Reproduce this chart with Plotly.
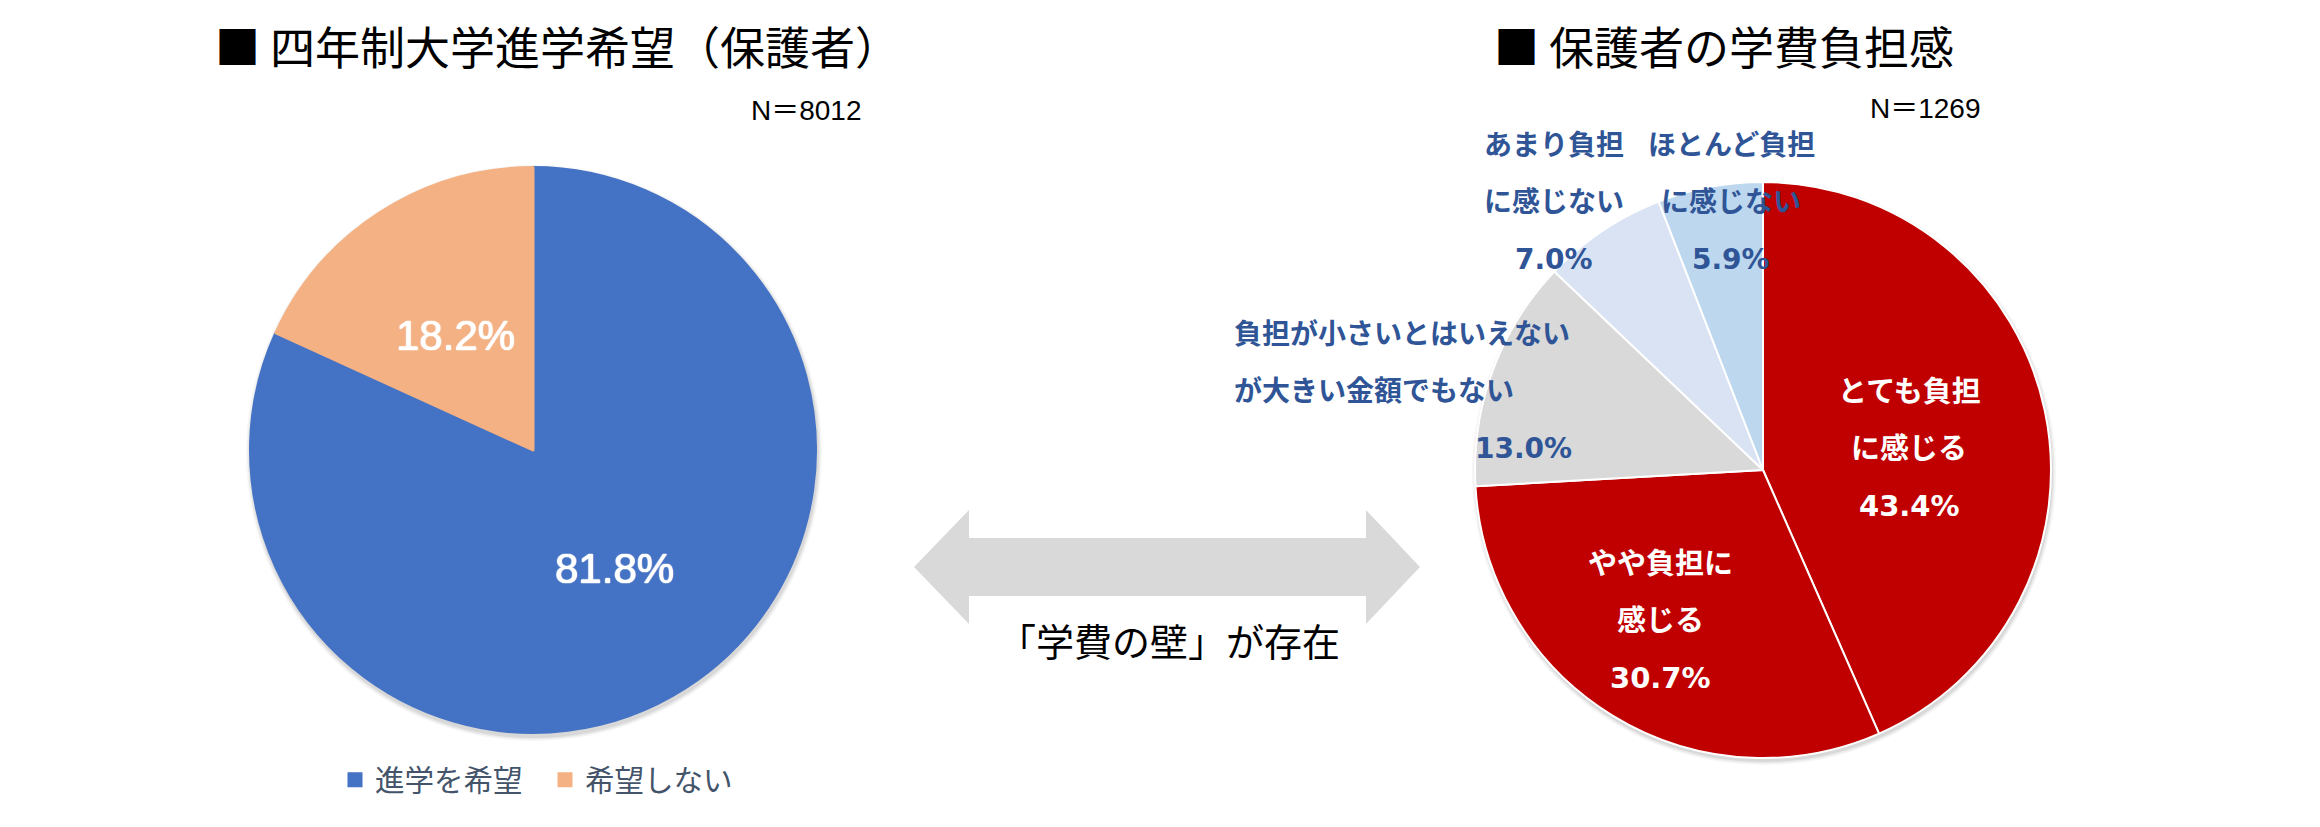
import plotly.graph_objects as go

W, H = 2320, 827

# ---------------- data ----------------
wish_labels = ["進学を希望", "希望しない"]
wish_values = [81.8, 18.2]
wish_colors = ["#4472C4", "#F4B183"]
wish_title = "■ 四年制大学進学希望（保護者）"
wish_n = "N＝8012"

burden_labels = [
    "とても負担<br>に感じる",
    "やや負担に<br>感じる",
    "負担が小さいとはいえない<br>が大きい金額でもない",
    "あまり負担<br>に感じない",
    "ほとんど負担<br>に感じない",
]
burden_values = [43.4, 30.7, 13.0, 7.0, 5.9]
burden_colors = ["#C00000", "#C00000", "#D9D9D9", "#DAE3F3", "#BDD7EE"]
burden_title = "■ 保護者の学費負担感"
burden_n = "N＝1269"

wall_caption = "「学費の壁」が存在"

# ---------------- helpers (screen pixel -> paper) ----------------
OFF = 8  # default body margin of the html page


def px(x):
    return (x - OFF) / W


def py(y):
    return 1 - (y - OFF) / H


def domain(cx, cy, r):
    return dict(x=[px(cx - r), px(cx + r)], y=[py(cy + r), py(cy - r)])


JP = "Noto Sans CJK JP"
JP_BOLD_LABEL = "DejaVu Sans, Noto Sans CJK JP"
LEFT_PCT_FONT = "Liberation Sans Narrow, Arial Narrow, Liberation Sans"

LEFT_C, LEFT_R = (533, 450), 284
RIGHT_C, RIGHT_R = (1763, 470), 288

fig = go.Figure()

# left pie (slice outline in the slice colour, so the legend squares get larger)
fig.add_trace(go.Pie(
    labels=wish_labels,
    values=wish_values,
    sort=False,
    direction="clockwise",
    rotation=0,
    marker=dict(colors=wish_colors, line=dict(width=3, color=wish_colors)),
    textinfo="none",
    hoverinfo="label+percent",
    domain=domain(LEFT_C[0], LEFT_C[1], LEFT_R - 1.5),
    showlegend=True,
))

# right pie
fig.add_trace(go.Pie(
    labels=[l.replace("<br>", "") for l in burden_labels],
    values=burden_values,
    sort=False,
    direction="clockwise",
    rotation=0,
    marker=dict(colors=burden_colors, line=dict(width=2, color="white")),
    textinfo="none",
    hoverinfo="label+percent",
    domain=domain(RIGHT_C[0], RIGHT_C[1], RIGHT_R),
    showlegend=False,
))

annotations = []

# titles
annotations.append(dict(x=px(213), y=py(46), text=wish_title, showarrow=False,
                        xanchor="left", yanchor="middle",
                        font=dict(family=JP, size=45, color="black")))
annotations.append(dict(x=px(1492), y=py(46), text=burden_title, showarrow=False,
                        xanchor="left", yanchor="middle",
                        font=dict(family=JP, size=45, color="black")))
# N labels
annotations.append(dict(x=px(864), y=py(111), text=wish_n, showarrow=False,
                        xanchor="right", yanchor="middle",
                        font=dict(family="Liberation Sans, " + JP, size=28, color="black")))
annotations.append(dict(x=px(1983), y=py(108), text=burden_n, showarrow=False,
                        xanchor="right", yanchor="middle",
                        font=dict(family="Liberation Sans, " + JP, size=28, color="black")))

# left pie percentages
wish_label_pos = [(614, 568), (455, 336)]
for v, (x, y) in zip(wish_values, wish_label_pos):
    annotations.append(dict(x=px(x), y=py(y), text=f"{v:.1f}%", showarrow=False,
                            xanchor="center", yanchor="middle",
                            font=dict(family=LEFT_PCT_FONT, size=42, color="white",
                                      shadow="0px 0px 1px #ffffff, 0px 0px 1px #ffffff, 0px 0px 1px #ffffff")))

# right pie labels (layout positions)
burden_label_layout = [
    dict(x=1909, y=392, dy=57, anchor="center", pct_x=1909, color="white", size=29),
    dict(x=1660, y=564, dy=57, anchor="center", pct_x=1660, color="white", size=29),
    dict(x=1232, y=334, dy=57, anchor="left", pct_x=1523, color="#2F5597", size=28),
    dict(x=1554, y=145, dy=57, anchor="center", pct_x=1554, color="#2F5597", size=28),
    dict(x=1731, y=145, dy=57, anchor="center", pct_x=1731, color="#2F5597", size=28),
]
for lab, v, lay in zip(burden_labels, burden_values, burden_label_layout):
    lines = lab.split("<br>")
    for i, line in enumerate(lines):
        annotations.append(dict(x=px(lay["x"]), y=py(lay["y"] + i * lay["dy"]), text=f"<b>{line}</b>",
                                showarrow=False, xanchor=lay["anchor"], yanchor="middle",
                                font=dict(family=JP_BOLD_LABEL, size=lay["size"], color=lay["color"])))
    annotations.append(dict(x=px(lay["pct_x"]), y=py(lay["y"] + len(lines) * lay["dy"]),
                            text=f"<b>{v:.1f}%</b>", showarrow=False, xanchor="center", yanchor="middle",
                            font=dict(family=JP_BOLD_LABEL, size=lay["size"], color=lay["color"])))

# caption under arrow
annotations.append(dict(x=px(1169), y=py(639), text=wall_caption, showarrow=False,
                        xanchor="center", yanchor="middle",
                        font=dict(family=JP, size=38, color="black")))

shapes = []

# soft drop shadow behind each pie (layered translucent circles)
for (cx, cy), r in [(LEFT_C, LEFT_R), (RIGHT_C, RIGHT_R)]:
    for grow, alpha in [(1, 0.07), (2.5, 0.05), (4, 0.035)]:
        sx, sy = cx + 1, cy + 3
        shapes.append(dict(type="circle", xref="paper", yref="paper",
                           x0=px(sx - r - grow), x1=px(sx + r + grow),
                           y0=py(sy + r + grow), y1=py(sy - r - grow),
                           fillcolor=f"rgba(0,0,0,{alpha})", line=dict(width=0), layer="below"))

# double-headed arrow shape
arrow_pts = [(914, 567), (969, 510), (969, 538), (1366, 538), (1366, 510), (1420, 567),
             (1366, 624), (1366, 596), (969, 596), (969, 624)]
path = "M " + " L ".join(f"{px(x):.5f},{py(y):.5f}" for x, y in arrow_pts) + " Z"
shapes.append(dict(type="path", xref="paper", yref="paper", path=path,
                   fillcolor="#D9D9D9", line=dict(width=0), layer="below"))

fig.update_layout(
    width=W, height=H,
    margin=dict(l=0, r=0, t=0, b=0),
    paper_bgcolor="white",
    plot_bgcolor="rgba(0,0,0,0)",
    annotations=annotations,
    shapes=shapes,
    legend=dict(
        orientation="h",
        x=px(335), xanchor="left",
        y=py(780), yanchor="middle",
        entrywidth=165,
        font=dict(family=JP, size=29.5, color="#44546A"),
        bgcolor="rgba(0,0,0,0)",
    ),
)

fig.write_html("out.html")
